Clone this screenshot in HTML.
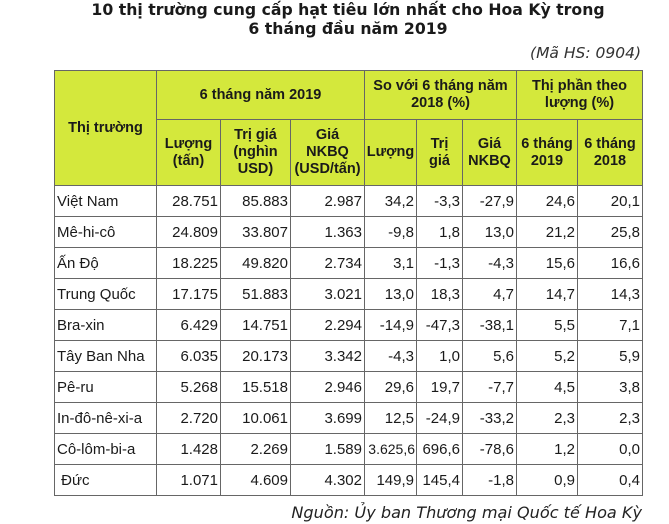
<!DOCTYPE html>
<html><head><meta charset="utf-8"><style>
body{margin:0;width:669px;height:524px;background:#fff;font-family:"Liberation Sans",Arial,sans-serif;color:#1a1a1a;position:relative;overflow:hidden}
.t{position:absolute;left:0;width:696px;text-align:center;font-weight:bold;font-size:15.7px;line-height:19px;font-family:"DejaVu Sans",sans-serif}
.hs{position:absolute;right:28px;top:44px;font-style:italic;font-size:15.5px;color:#333;font-family:"DejaVu Sans",sans-serif}
table{position:absolute;left:54px;top:70px;border-collapse:collapse;table-layout:fixed}
td{border:1.5px solid #666;font-size:15px;padding:0 2px;height:30px;text-align:right;white-space:nowrap}
tr.h td{background:#d4e83c;font-weight:bold;text-align:center;line-height:17px;white-space:normal;padding:0 1px;font-size:14.5px}
td.n{text-align:left}
.src{position:absolute;right:27px;top:503px;font-style:italic;font-size:16.1px;color:#222;font-family:"DejaVu Sans",sans-serif}
</style></head><body>
<div class="t" style="top:0">10 thị trường cung cấp hạt tiêu lớn nhất cho Hoa Kỳ trong</div>
<div class="t" style="top:19px">6 tháng đầu năm 2019</div>
<div class="hs">(Mã HS: 0904)</div>
<table>
<colgroup><col style="width:102px"><col style="width:64px"><col style="width:70px"><col style="width:74px"><col style="width:52px"><col style="width:46px"><col style="width:54px"><col style="width:61px"><col style="width:65px"></colgroup>
<tr class="h" style="height:48px"><td rowspan="2" style="height:114px">Thị trường</td><td colspan="3" style="height:48px">6 tháng năm 2019</td><td colspan="3" style="height:48px">So với 6 tháng năm 2018 (%)</td><td colspan="2" style="height:48px">Thị phần theo lượng (%)</td></tr>
<tr class="h"><td style="height:65px">Lượng (tấn)</td><td>Trị giá (nghìn USD)</td><td>Giá<br>NKBQ<br>(USD/tấn)</td><td>Lượng</td><td>Trị<br>giá</td><td>Giá NKBQ</td><td>6 tháng 2019</td><td>6 tháng 2018</td></tr>
<tr><td class="n">Việt Nam</td><td>28.751</td><td>85.883</td><td>2.987</td><td>34,2</td><td>-3,3</td><td>-27,9</td><td>24,6</td><td>20,1</td></tr>
<tr><td class="n">Mê-hi-cô</td><td>24.809</td><td>33.807</td><td>1.363</td><td>-9,8</td><td>1,8</td><td>13,0</td><td>21,2</td><td>25,8</td></tr>
<tr><td class="n">Ấn Độ</td><td>18.225</td><td>49.820</td><td>2.734</td><td>3,1</td><td>-1,3</td><td>-4,3</td><td>15,6</td><td>16,6</td></tr>
<tr><td class="n">Trung Quốc</td><td>17.175</td><td>51.883</td><td>3.021</td><td>13,0</td><td>18,3</td><td>4,7</td><td>14,7</td><td>14,3</td></tr>
<tr><td class="n">Bra-xin</td><td>6.429</td><td>14.751</td><td>2.294</td><td>-14,9</td><td>-47,3</td><td>-38,1</td><td>5,5</td><td>7,1</td></tr>
<tr><td class="n">Tây Ban Nha</td><td>6.035</td><td>20.173</td><td>3.342</td><td>-4,3</td><td>1,0</td><td>5,6</td><td>5,2</td><td>5,9</td></tr>
<tr><td class="n">Pê-ru</td><td>5.268</td><td>15.518</td><td>2.946</td><td>29,6</td><td>19,7</td><td>-7,7</td><td>4,5</td><td>3,8</td></tr>
<tr><td class="n">In-đô-nê-xi-a</td><td>2.720</td><td>10.061</td><td>3.699</td><td>12,5</td><td>-24,9</td><td>-33,2</td><td>2,3</td><td>2,3</td></tr>
<tr><td class="n">Cô-lôm-bi-a</td><td>1.428</td><td>2.269</td><td>1.589</td><td style="padding:0 1px;font-size:14px">3.625,6</td><td>696,6</td><td>-78,6</td><td>1,2</td><td>0,0</td></tr>
<tr><td class="n">&nbsp;Đức</td><td>1.071</td><td>4.609</td><td>4.302</td><td>149,9</td><td>145,4</td><td>-1,8</td><td>0,9</td><td>0,4</td></tr>
</table>
<div class="src">Nguồn: Ủy ban Thương mại Quốc tế Hoa Kỳ</div>
</body></html>
